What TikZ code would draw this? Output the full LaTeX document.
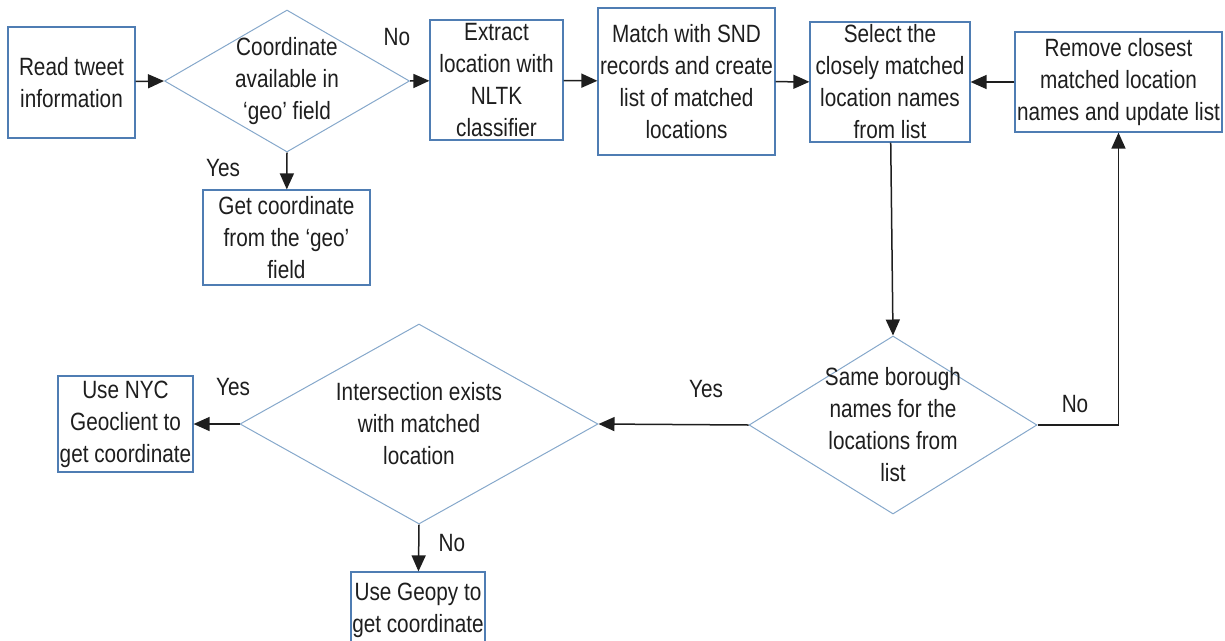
\documentclass[tikz,border=0pt]{standalone}
\usepackage{fontspec}
\setmainfont[FakeStretch=0.83]{Liberation Sans}
\usetikzlibrary{arrows.meta,shapes.geometric}
\definecolor{boxblue}{HTML}{4F7DB3}
\definecolor{diablue}{HTML}{86A8CB}
\definecolor{inkgray}{HTML}{1E1E1E}
\tikzset{
    block/.style = {draw=boxblue, line width=1.2pt, rectangle, inner sep=1pt,
        align=center, text=inkgray, font=\fontsize{25}{32}\selectfont},
    decision/.style = {draw=diablue, line width=1pt, diamond, inner sep=0pt},
    dtext/.style = {align=center, text=inkgray, font=\fontsize{25}{32}\selectfont},
    lbl/.style = {text=inkgray, font=\fontsize{25}{32}\selectfont},
    arrow/.style = {draw=inkgray, line width=1.5pt, -{Triangle[length=16pt,width=14pt]}}
}
\begin{document}
\begin{tikzpicture}[x=1pt,y=-1pt]
                \useasboundingbox (0,0) rectangle (1225,640);
                \clip (0,0) rectangle (1225,640);
                \node[block, minimum width=127, minimum height=111] (read) at (71.5,82.5) {Read tweet\\information};
                \node[decision, minimum width=245, minimum height=142,
                    label={[dtext]center:{Coordinate\\available in\\‘geo’ field}}] (cond) at (287,81) {};
                \node[block, minimum width=133, minimum height=120] (extract) at (496.5,80) {Extract\\location with\\NLTK\\classifier};
                \node[block, minimum width=177, minimum height=147] (match) at (686.5,81.5) {Match with  SND\\records and create\\list of matched\\locations};
                \node[block, minimum width=160, minimum height=120] (select) at (890,82) {Select the\\closely matched\\location names\\from list};
                \node[block, minimum width=207, minimum height=100] (remove) at (1118.5,82) {Remove closest\\matched location\\names and update list};
                \node[block, minimum width=167, minimum height=95] (getgeo) at (286.5,237.5) {Get coordinate\\from the ‘geo’\\field};
                \node[decision, minimum width=288, minimum height=178,
                    label={[dtext]center:{Same borough\\names for the\\locations from\\list}}] (same) at (893,425) {};
                \node[decision, minimum width=358, minimum height=200,
                    label={[dtext]center:{Intersection  exists\\with  matched\\location}}] (inter) at (419,424) {};
                \node[block, minimum width=135, minimum height=96] (nyc) at (125.5,424) {Use NYC\\Geoclient to\\get coordinate};
                \node[block, minimum width=134, minimum height=76] (geopy) at (418,610) {Use Geopy to\\get coordinate};
                % connectors
                \draw[arrow] (read) -- (cond.west);
                \draw[arrow] (cond.east) -- (extract);
                \draw[arrow] (extract) -- (match);
                \draw[arrow] (match) -- (select);
                \draw[arrow] (remove) -- (select);
                \draw[arrow] (cond.south) -- (getgeo);
                \draw[arrow] (select) -- (same.north);
                \draw[arrow] (same.east) -| (remove);
                \draw[arrow] (same.west) -- (inter.east);
                \draw[arrow] (inter.west) -- (nyc);
                \draw[arrow] (inter.south) -- (geopy);
                % branch labels
                \node[lbl] (cno) at (397,37) {No};
                \node[lbl] (cyes) at (223,168) {Yes};
                \node[lbl] (syes) at (706,389) {Yes};
                \node[lbl] (sno) at (1075,404) {No};
                \node[lbl] (iyes) at (233,387) {Yes};
                \node[lbl] (ino) at (452,543) {No};
            \end{tikzpicture}
\end{document}
